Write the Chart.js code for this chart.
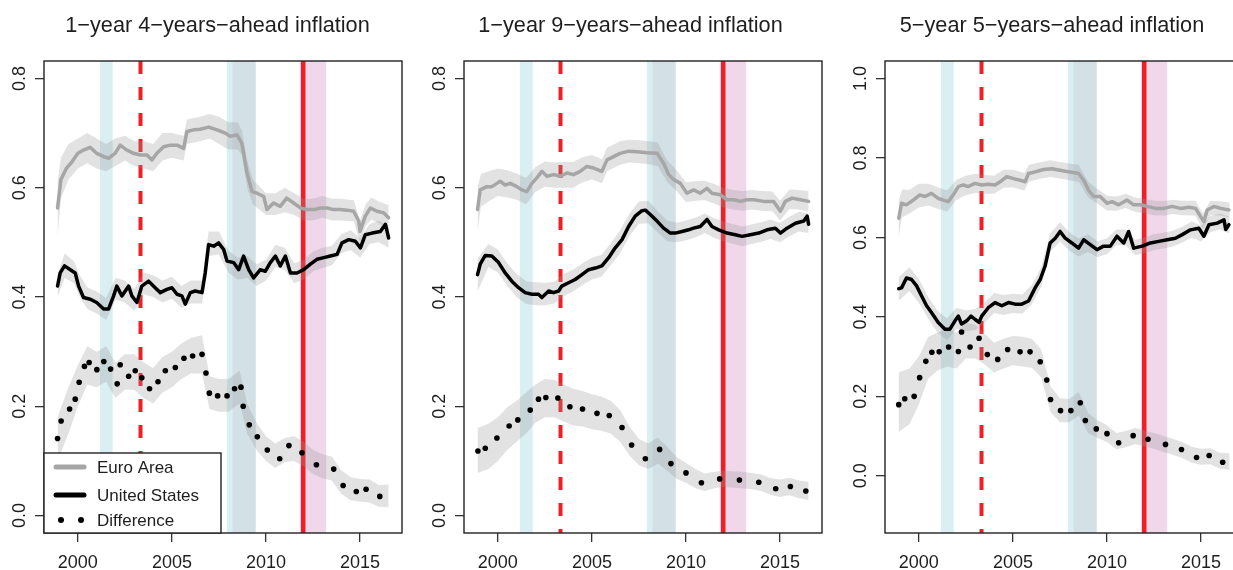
<!DOCTYPE html>
<html>
<head>
<meta charset="utf-8">
<script src="https://cdn.jsdelivr.net/npm/chart.js@4.4.1/dist/chart.umd.min.js"></script>
<style>
html,body{margin:0;padding:0;background:#fff;}
body{width:1233px;height:570px;overflow:hidden;position:relative;}
canvas{position:absolute;top:0;}
</style>
</head>
<body>
<canvas id="c1" width="412" height="570" style="left:0px"></canvas>
<canvas id="c2" width="412" height="570" style="left:420px"></canvas>
<canvas id="c3" width="412" height="570" style="left:841px"></canvas>
<script>
// ---------------- DATA ----------------
const TITLES = ['1\u2212year 4\u2212years\u2212ahead inflation', '1\u2212year 9\u2212years\u2212ahead inflation', '5\u2212year 5\u2212years\u2212ahead inflation'];
const SERIES = ['Euro Area', 'United States', 'Difference'];
const X_TICKS = [2000, 2005, 2010, 2015];
const Y_TICKS_A = [0.0, 0.2, 0.4, 0.6, 0.8];
const Y_TICKS_B = [0.0, 0.2, 0.4, 0.6, 0.8, 1.0];
const X_RANGE = [1998.2, 2017.23];
const Y_RANGE_A = [-0.032, 0.832];
const Y_RANGE_B = [-0.144, 1.044];

// shaded periods and event lines (years)
const US_RECESSIONS = [[2001.17, 2001.85], [2007.92, 2009.45]];
const EA_RECESSIONS = [[2008.22, 2009.45]];
const EA_CRISIS = [[2011.8, 2013.2]];
const DASHED_EVENT = 2003.33;
const SOLID_EVENT = 2011.98;

// Panel 1: 1-year 4-years-ahead
const P1_EA = [[1998.92,0.563],[1999.1,0.615],[1999.4,0.636],[1999.7,0.648],[2000.0,0.663],[2000.3,0.669],[2000.65,0.674],[2001.0,0.663],[2001.37,0.657],[2001.63,0.654],[2001.98,0.663],[2002.25,0.678],[2002.6,0.669],[2002.96,0.663],[2003.32,0.66],[2003.67,0.66],[2003.94,0.651],[2004.2,0.663],[2004.56,0.675],[2004.91,0.678],[2005.27,0.678],[2005.62,0.672],[2005.8,0.703],[2006.15,0.706],[2006.5,0.707],[2006.95,0.711],[2007.4,0.706],[2007.84,0.7],[2008.1,0.694],[2008.46,0.697],[2008.72,0.681],[2008.99,0.627],[2009.26,0.593],[2009.52,0.59],[2009.88,0.584],[2010.05,0.56],[2010.4,0.572],[2010.76,0.566],[2011.1,0.581],[2011.47,0.572],[2011.83,0.563],[2012.18,0.56],[2012.54,0.56],[2012.9,0.563],[2013.24,0.563],[2013.6,0.56],[2013.95,0.56],[2014.3,0.559],[2014.66,0.557],[2014.93,0.539],[2015.0,0.52],[2015.28,0.548],[2015.55,0.563],[2015.9,0.557],[2016.26,0.554],[2016.52,0.545]];
const P1_US = [[1998.92,0.42],[1999.06,0.444],[1999.29,0.457],[1999.6,0.45],[1999.86,0.444],[2000.04,0.42],[2000.3,0.399],[2000.66,0.396],[2001.0,0.39],[2001.37,0.378],[2001.63,0.378],[2001.9,0.402],[2002.07,0.42],[2002.34,0.402],[2002.7,0.42],[2002.87,0.402],[2003.14,0.39],[2003.4,0.42],[2003.76,0.429],[2004.11,0.417],[2004.38,0.408],[2004.73,0.414],[2005.0,0.417],[2005.27,0.405],[2005.53,0.402],[2005.71,0.387],[2005.98,0.408],[2006.24,0.411],[2006.6,0.408],[2006.77,0.444],[2006.95,0.496],[2007.22,0.493],[2007.48,0.499],[2007.75,0.487],[2007.93,0.466],[2008.28,0.463],[2008.55,0.45],[2008.81,0.475],[2009.08,0.45],[2009.34,0.435],[2009.7,0.45],[2009.96,0.447],[2010.23,0.463],[2010.5,0.475],[2010.76,0.457],[2011.03,0.475],[2011.3,0.444],[2011.65,0.444],[2012.0,0.45],[2012.36,0.46],[2012.71,0.469],[2013.07,0.472],[2013.42,0.475],[2013.78,0.478],[2014.04,0.499],[2014.4,0.505],[2014.75,0.502],[2015.02,0.49],[2015.28,0.514],[2015.64,0.517],[2016.08,0.52],[2016.35,0.533],[2016.52,0.508]];
const P1_DIFF = [[1998.92,0.141],[1999.11,0.173],[1999.56,0.195],[1999.86,0.213],[2000.07,0.244],[2000.35,0.273],[2000.6,0.28],[2001.01,0.267],[2001.38,0.282],[2001.74,0.268],[2002.09,0.241],[2002.25,0.276],[2002.7,0.255],[2003.05,0.265],[2003.4,0.252],[2003.81,0.232],[2004.26,0.245],[2004.65,0.265],[2005.18,0.271],[2005.64,0.288],[2006.1,0.292],[2006.6,0.295],[2006.81,0.261],[2006.99,0.224],[2007.43,0.219],[2007.93,0.219],[2008.33,0.232],[2008.67,0.235],[2008.79,0.2],[2009.11,0.166],[2009.54,0.144],[2010.07,0.12],[2010.73,0.104],[2011.22,0.128],[2011.91,0.115],[2012.68,0.093],[2013.6,0.085],[2014.1,0.055],[2014.8,0.044],[2015.32,0.048],[2016.05,0.035]];
// bands: [year, lower, upper]
const P1_EA_BAND = [[1998.92,0.51,0.61],[1999.1,0.58,0.655],[1999.5,0.615,0.68],[2000,0.635,0.69],[2000.5,0.645,0.70],[2001,0.635,0.69],[2001.5,0.63,0.68],[2002,0.64,0.69],[2002.5,0.65,0.695],[2003,0.64,0.685],[2003.5,0.635,0.685],[2004,0.63,0.68],[2004.5,0.65,0.70],[2005,0.655,0.70],[2005.62,0.65,0.695],[2005.8,0.68,0.725],[2006.5,0.685,0.73],[2007,0.69,0.735],[2007.5,0.68,0.73],[2008,0.67,0.72],[2008.5,0.67,0.72],[2008.72,0.66,0.705],[2009,0.60,0.65],[2009.3,0.57,0.615],[2010,0.55,0.59],[2010.5,0.55,0.59],[2011,0.555,0.60],[2011.5,0.55,0.59],[2012,0.54,0.58],[2012.5,0.54,0.58],[2013,0.545,0.585],[2013.5,0.54,0.58],[2014,0.54,0.58],[2014.66,0.538,0.577],[2015,0.50,0.54],[2015.3,0.53,0.57],[2015.6,0.542,0.582],[2016,0.535,0.575],[2016.52,0.525,0.568]];
const P1_US_BAND = [[1998.92,0.40,0.44],[1999.3,0.435,0.48],[1999.8,0.425,0.465],[2000.1,0.40,0.44],[2000.5,0.378,0.418],[2001,0.37,0.41],[2001.5,0.358,0.398],[2002,0.395,0.435],[2002.5,0.39,0.43],[2003,0.375,0.415],[2003.5,0.405,0.445],[2004,0.40,0.44],[2004.5,0.39,0.43],[2005,0.397,0.437],[2005.5,0.38,0.42],[2006,0.388,0.43],[2006.6,0.388,0.43],[2006.95,0.475,0.52],[2007.5,0.478,0.52],[2008,0.445,0.485],[2008.5,0.432,0.472],[2009,0.435,0.475],[2009.5,0.42,0.46],[2010,0.43,0.468],[2010.5,0.455,0.495],[2011,0.45,0.49],[2011.5,0.425,0.462],[2012,0.432,0.468],[2012.5,0.447,0.483],[2013,0.453,0.49],[2013.5,0.458,0.494],[2014,0.48,0.515],[2014.5,0.486,0.522],[2015,0.472,0.508],[2015.5,0.497,0.533],[2016,0.50,0.54],[2016.52,0.49,0.528]];
const P1_DIFF_BAND = [[1998.92,0.10,0.18],[1999.5,0.15,0.235],[2000,0.20,0.275],[2000.5,0.24,0.31],[2001,0.235,0.30],[2001.5,0.245,0.31],[2002,0.215,0.28],[2002.5,0.23,0.295],[2003,0.23,0.295],[2003.5,0.215,0.28],[2004,0.205,0.27],[2004.5,0.225,0.29],[2005,0.235,0.30],[2005.5,0.25,0.315],[2006,0.26,0.325],[2006.6,0.26,0.33],[2007,0.195,0.255],[2007.5,0.19,0.25],[2008,0.19,0.25],[2008.6,0.205,0.265],[2009,0.15,0.205],[2009.5,0.12,0.17],[2010,0.10,0.145],[2010.5,0.087,0.132],[2011,0.098,0.142],[2011.5,0.10,0.145],[2012,0.09,0.135],[2012.5,0.076,0.12],[2013,0.068,0.112],[2013.5,0.064,0.108],[2014,0.04,0.083],[2014.5,0.028,0.07],[2015,0.025,0.067],[2015.5,0.024,0.066],[2016,0.016,0.056],[2016.52,0.015,0.057]];

// Panel 2: 1-year 9-years-ahead
const P2_EA = [[1998.92,0.56],[1999.06,0.596],[1999.41,0.602],[1999.68,0.602],[1999.95,0.608],[2000.12,0.612],[2000.39,0.605],[2000.66,0.608],[2001.01,0.602],[2001.28,0.596],[2001.54,0.593],[2001.81,0.608],[2002.07,0.618],[2002.34,0.63],[2002.61,0.621],[2002.96,0.624],[2003.32,0.621],[2003.67,0.627],[2004.02,0.624],[2004.38,0.63],[2004.73,0.639],[2005.09,0.636],[2005.53,0.63],[2005.8,0.651],[2006.15,0.657],[2006.5,0.663],[2006.95,0.667],[2007.39,0.666],[2007.93,0.664],[2008.46,0.663],[2008.81,0.645],[2009.08,0.624],[2009.34,0.615],[2009.7,0.608],[2010.05,0.59],[2010.4,0.596],[2010.76,0.59],[2011.11,0.599],[2011.38,0.59],[2011.83,0.587],[2012.18,0.578],[2012.54,0.578],[2012.89,0.575],[2013.24,0.578],[2013.6,0.578],[2014.13,0.575],[2014.66,0.575],[2015.02,0.557],[2015.28,0.575],[2015.64,0.581],[2016.08,0.578],[2016.52,0.575]];
const P2_US = [[1998.92,0.441],[1999.06,0.46],[1999.33,0.476],[1999.68,0.475],[2000.04,0.463],[2000.39,0.444],[2000.74,0.429],[2001.1,0.417],[2001.45,0.408],[2001.81,0.405],[2002.16,0.405],[2002.34,0.399],[2002.7,0.411],[2002.96,0.408],[2003.23,0.411],[2003.4,0.42],[2003.76,0.426],[2004.11,0.432],[2004.47,0.441],[2004.82,0.45],[2005.18,0.453],[2005.53,0.457],[2005.89,0.472],[2006.24,0.49],[2006.6,0.505],[2006.95,0.529],[2007.3,0.548],[2007.66,0.558],[2007.84,0.559],[2008.1,0.551],[2008.46,0.539],[2008.81,0.526],[2009.17,0.517],[2009.43,0.517],[2009.79,0.52],[2010.14,0.523],[2010.4,0.526],[2010.76,0.529],[2011.12,0.542],[2011.38,0.529],[2011.74,0.523],[2012.18,0.517],[2012.62,0.514],[2012.98,0.511],[2013.42,0.514],[2013.87,0.517],[2014.31,0.523],[2014.75,0.526],[2015.02,0.517],[2015.37,0.526],[2015.82,0.535],[2016.26,0.539],[2016.44,0.548],[2016.52,0.533]];
const P2_DIFF = [[1998.94,0.118],[1999.33,0.123],[1999.95,0.142],[2000.6,0.164],[2001.06,0.175],[2001.72,0.193],[2002.16,0.213],[2002.55,0.216],[2003.19,0.215],[2003.83,0.199],[2004.5,0.195],[2005.27,0.187],[2005.92,0.183],[2006.6,0.161],[2007.11,0.129],[2007.84,0.104],[2008.6,0.121],[2009.2,0.095],[2010.0,0.078],[2010.82,0.06],[2011.79,0.067],[2012.84,0.065],[2013.87,0.061],[2014.77,0.049],[2015.55,0.053],[2016.37,0.045]];
const P2_EA_BAND = [[1998.92,0.52,0.60],[1999.1,0.565,0.625],[1999.5,0.575,0.63],[2000,0.585,0.635],[2000.5,0.582,0.632],[2001,0.578,0.626],[2001.5,0.57,0.618],[2002,0.592,0.638],[2002.5,0.602,0.648],[2003,0.60,0.646],[2003.5,0.60,0.647],[2004,0.60,0.647],[2004.5,0.61,0.656],[2005,0.615,0.66],[2005.53,0.608,0.652],[2005.8,0.63,0.673],[2006.5,0.642,0.685],[2007,0.646,0.688],[2007.5,0.645,0.687],[2008,0.643,0.685],[2008.5,0.64,0.683],[2009,0.61,0.65],[2009.5,0.594,0.632],[2010,0.574,0.61],[2010.5,0.576,0.612],[2011,0.577,0.613],[2011.5,0.571,0.607],[2012,0.564,0.60],[2012.5,0.56,0.596],[2013,0.558,0.594],[2013.5,0.56,0.596],[2014,0.558,0.594],[2014.6,0.557,0.593],[2015,0.54,0.576],[2015.5,0.561,0.597],[2016,0.56,0.596],[2016.52,0.556,0.594]];
const P2_US_BAND = [[1998.92,0.41,0.47],[1999.5,0.455,0.497],[2000,0.445,0.487],[2000.5,0.42,0.462],[2001,0.40,0.442],[2001.5,0.387,0.429],[2002,0.385,0.427],[2002.5,0.385,0.426],[2003,0.388,0.428],[2003.5,0.402,0.442],[2004,0.41,0.45],[2004.5,0.422,0.462],[2005,0.432,0.472],[2005.5,0.437,0.477],[2006,0.458,0.498],[2006.5,0.48,0.522],[2007,0.512,0.553],[2007.5,0.534,0.575],[2008,0.535,0.576],[2008.5,0.518,0.557],[2009,0.502,0.54],[2009.5,0.50,0.536],[2010,0.504,0.54],[2010.5,0.509,0.545],[2011,0.517,0.553],[2011.5,0.508,0.544],[2012,0.502,0.538],[2012.5,0.497,0.533],[2013,0.493,0.529],[2013.5,0.497,0.533],[2014,0.501,0.537],[2014.5,0.506,0.542],[2015,0.50,0.536],[2015.5,0.511,0.547],[2016,0.52,0.556],[2016.52,0.517,0.553]];
const P2_DIFF_BAND = [[1998.92,0.078,0.16],[1999.5,0.085,0.168],[2000,0.10,0.18],[2000.5,0.12,0.198],[2001,0.135,0.21],[2001.5,0.15,0.225],[2002,0.17,0.24],[2002.5,0.18,0.25],[2003,0.18,0.248],[2003.5,0.172,0.24],[2004,0.165,0.232],[2004.5,0.163,0.228],[2005,0.158,0.222],[2005.5,0.155,0.218],[2006,0.15,0.21],[2006.5,0.135,0.193],[2007,0.11,0.163],[2007.5,0.092,0.14],[2008,0.085,0.132],[2008.5,0.095,0.143],[2009,0.082,0.126],[2009.5,0.067,0.107],[2010,0.06,0.096],[2010.5,0.05,0.085],[2011,0.045,0.077],[2011.5,0.05,0.08],[2012,0.052,0.082],[2012.5,0.051,0.081],[2013,0.05,0.08],[2013.5,0.048,0.078],[2014,0.045,0.075],[2014.5,0.038,0.068],[2015,0.034,0.066],[2015.5,0.037,0.069],[2016,0.032,0.064],[2016.52,0.028,0.062]];

// Panel 3: 5-year 5-years-ahead
const P3_EA = [[1998.93,0.648],[1999.08,0.686],[1999.34,0.682],[1999.7,0.694],[2000.05,0.707],[2000.32,0.703],[2000.67,0.711],[2001.03,0.698],[2001.3,0.694],[2001.56,0.69],[2001.83,0.707],[2002.1,0.728],[2002.36,0.732],[2002.63,0.728],[2002.98,0.736],[2003.34,0.732],[2003.69,0.734],[2004.05,0.732],[2004.32,0.74],[2004.67,0.753],[2005.03,0.748],[2005.38,0.744],[2005.65,0.74],[2005.83,0.761],[2006.18,0.765],[2006.63,0.771],[2007.07,0.773],[2007.51,0.769],[2007.96,0.765],[2008.49,0.761],[2008.76,0.744],[2009.02,0.719],[2009.29,0.703],[2009.64,0.703],[2010.0,0.686],[2010.27,0.69],[2010.62,0.682],[2011.07,0.694],[2011.42,0.682],[2011.78,0.682],[2012.13,0.678],[2012.58,0.673],[2013.02,0.673],[2013.46,0.678],[2013.91,0.673],[2014.35,0.676],[2014.71,0.673],[2014.97,0.653],[2015.15,0.64],[2015.33,0.669],[2015.68,0.678],[2016.04,0.673],[2016.48,0.669]];
const P3_US = [[1998.93,0.471],[1999.08,0.473],[1999.34,0.498],[1999.61,0.494],[1999.88,0.478],[2000.14,0.453],[2000.41,0.428],[2000.67,0.411],[2001.03,0.386],[2001.39,0.369],[2001.65,0.369],[2001.92,0.39],[2002.1,0.402],[2002.27,0.382],[2002.54,0.39],[2002.77,0.402],[2002.98,0.394],[2003.2,0.386],[2003.34,0.402],[2003.69,0.423],[2004.05,0.436],[2004.41,0.428],[2004.76,0.436],[2005.12,0.432],[2005.47,0.432],[2005.83,0.44],[2006.18,0.473],[2006.45,0.494],[2006.71,0.528],[2006.98,0.586],[2007.25,0.598],[2007.51,0.615],[2007.78,0.598],[2008.13,0.586],[2008.49,0.573],[2008.76,0.594],[2009.11,0.582],[2009.47,0.569],[2009.82,0.578],[2010.18,0.578],[2010.53,0.603],[2010.89,0.586],[2011.15,0.615],[2011.42,0.573],[2011.87,0.578],[2012.31,0.586],[2012.75,0.59],[2013.2,0.594],[2013.64,0.598],[2014.0,0.607],[2014.44,0.619],[2014.88,0.623],[2015.15,0.603],[2015.42,0.632],[2015.86,0.636],[2016.22,0.644],[2016.31,0.62],[2016.48,0.632]];
const P3_DIFF = [[1998.93,0.179],[1999.25,0.194],[1999.75,0.2],[2000.04,0.247],[2000.37,0.288],[2000.69,0.311],[2001.08,0.312],[2001.58,0.324],[2002.1,0.313],[2002.27,0.362],[2002.72,0.324],[2003.2,0.346],[2003.64,0.305],[2004.19,0.293],[2004.72,0.318],[2005.38,0.312],[2005.91,0.312],[2006.45,0.287],[2006.8,0.241],[2007.0,0.192],[2007.53,0.164],[2008.08,0.164],[2008.58,0.184],[2008.85,0.139],[2009.43,0.118],[2010.0,0.106],[2010.62,0.083],[2011.39,0.101],[2012.18,0.092],[2013.11,0.079],[2013.96,0.066],[2014.76,0.046],[2015.43,0.051],[2016.15,0.034]];
const P3_EA_BAND = [[1998.92,0.60,0.69],[1999.1,0.65,0.72],[1999.5,0.66,0.72],[2000,0.675,0.735],[2000.5,0.68,0.735],[2001,0.672,0.726],[2001.5,0.665,0.718],[2002,0.695,0.745],[2002.5,0.706,0.755],[2003,0.712,0.76],[2003.5,0.71,0.757],[2004,0.71,0.755],[2004.5,0.725,0.77],[2005,0.726,0.77],[2005.6,0.718,0.762],[2005.85,0.74,0.783],[2006.5,0.748,0.79],[2007,0.752,0.794],[2007.5,0.748,0.79],[2008,0.744,0.786],[2008.5,0.74,0.782],[2009,0.70,0.74],[2009.5,0.685,0.722],[2010,0.668,0.705],[2010.5,0.667,0.703],[2011,0.674,0.71],[2011.5,0.664,0.70],[2012,0.661,0.697],[2012.5,0.656,0.692],[2013,0.655,0.691],[2013.5,0.659,0.695],[2014,0.656,0.692],[2014.7,0.655,0.692],[2015.1,0.62,0.66],[2015.5,0.656,0.692],[2016,0.655,0.691],[2016.52,0.65,0.688]];
const P3_US_BAND = [[1998.92,0.44,0.50],[1999.5,0.465,0.525],[2000,0.435,0.495],[2000.5,0.395,0.45],[2001,0.36,0.415],[2001.5,0.342,0.396],[2002,0.37,0.423],[2002.5,0.364,0.416],[2003,0.367,0.42],[2003.5,0.385,0.436],[2004,0.41,0.46],[2004.5,0.405,0.455],[2005,0.41,0.458],[2005.5,0.408,0.456],[2006,0.432,0.48],[2006.5,0.476,0.524],[2006.98,0.563,0.61],[2007.5,0.59,0.638],[2008,0.567,0.613],[2008.5,0.552,0.597],[2009,0.564,0.608],[2009.5,0.55,0.59],[2010,0.558,0.598],[2010.5,0.58,0.62],[2011,0.58,0.62],[2011.5,0.555,0.594],[2012,0.56,0.60],[2012.5,0.568,0.608],[2013,0.572,0.612],[2013.5,0.577,0.617],[2014,0.587,0.627],[2014.5,0.60,0.64],[2015,0.59,0.63],[2015.5,0.613,0.653],[2016,0.62,0.66],[2016.52,0.61,0.652]];
const P3_DIFF_BAND = [[1998.92,0.11,0.26],[1999.5,0.13,0.27],[2000,0.18,0.30],[2000.5,0.245,0.35],[2001,0.265,0.36],[2001.5,0.275,0.37],[2002,0.27,0.36],[2002.5,0.295,0.385],[2003,0.295,0.38],[2003.5,0.28,0.357],[2004,0.26,0.335],[2004.5,0.27,0.345],[2005,0.278,0.352],[2005.5,0.275,0.35],[2006,0.272,0.345],[2006.5,0.248,0.318],[2007,0.16,0.225],[2007.5,0.135,0.195],[2008,0.135,0.193],[2008.5,0.152,0.21],[2009,0.107,0.158],[2009.5,0.095,0.14],[2010,0.085,0.127],[2010.5,0.067,0.108],[2011,0.072,0.113],[2011.5,0.08,0.12],[2012,0.074,0.114],[2012.5,0.068,0.108],[2013,0.06,0.10],[2013.5,0.053,0.093],[2014,0.045,0.085],[2014.5,0.033,0.073],[2015,0.028,0.068],[2015.5,0.029,0.069],[2016,0.018,0.058],[2016.52,0.015,0.057]];

// ---------------- STYLE ----------------
const FONT = "'Liberation Sans', Arial, Helvetica, sans-serif";
const TEXT_COLOR = '#1e1e1e';
const EA_COLOR = '#a6a6a6';
const US_COLOR = '#000000';
const BAND_FILL = 'rgba(150,150,150,0.28)';
const CYAN = '#d9eff1';
const DARK_CYAN = '#d3e1e7';
const PINK = '#f0d7ea';
const RED = '#f01f26';

Chart.defaults.font.family = FONT;

const eventsPlugin = {
  id: 'events',
  beforeDatasetsDraw(chart) {
    const {ctx, chartArea: ca, scales: {x}} = chart;
    ctx.save();
    ctx.beginPath();
    ctx.rect(ca.left, ca.top, ca.right - ca.left, ca.bottom - ca.top);
    ctx.clip();
    const rect = (r, color) => {
      const x0 = x.getPixelForValue(r[0]);
      const x1 = x.getPixelForValue(r[1]);
      ctx.fillStyle = color;
      ctx.fillRect(x0, ca.top, x1 - x0, ca.bottom - ca.top);
    };
    US_RECESSIONS.forEach(r => rect(r, CYAN));
    EA_RECESSIONS.forEach(r => rect(r, DARK_CYAN));
    EA_CRISIS.forEach(r => rect(r, PINK));
    ctx.strokeStyle = RED;
    ctx.lineCap = 'butt';
    ctx.lineWidth = 4;
    ctx.setLineDash([13, 13]);
    let px = x.getPixelForValue(DASHED_EVENT);
    ctx.beginPath(); ctx.moveTo(px, ca.top); ctx.lineTo(px, ca.bottom); ctx.stroke();
    ctx.setLineDash([]);
    ctx.lineWidth = 4.5;
    px = x.getPixelForValue(SOLID_EVENT);
    ctx.beginPath(); ctx.moveTo(px, ca.top); ctx.lineTo(px, ca.bottom); ctx.stroke();
    ctx.restore();
  }
};

const boxPlugin = {
  id: 'box',
  afterLayout(chart, args, opts) {
    // centre the title over the plot region (with the small offset seen in the reference)
    const t = chart.titleBlock, ca = chart.chartArea;
    if (t && ca) {
      const shift = (opts && opts.titleShift) || 0;
      const w = t.right - t.left;
      const c = (ca.left + ca.right) / 2 + shift;
      t.left = c - w / 2;
      t.right = c + w / 2;
    }
  },
  afterDraw(chart) {
    const {ctx, chartArea: ca} = chart;
    ctx.save();
    ctx.strokeStyle = '#222';
    ctx.lineWidth = 1.4;
    ctx.strokeRect(ca.left, ca.top, ca.right - ca.left, ca.bottom - ca.top);
    ctx.restore();
  }
};

const legendPlugin = {
  id: 'rlegend',
  afterDraw(chart, args, opts) {
    if (!opts || !opts.show) return;
    const {ctx, chartArea: ca} = chart;
    const w = 177, h = 80;
    const left = ca.left, top = ca.bottom - h;
    ctx.save();
    ctx.fillStyle = '#fff';
    ctx.fillRect(left, top, w, h);
    ctx.strokeStyle = '#222';
    ctx.lineWidth = 1.4;
    ctx.strokeRect(left, top, w, h);
    const rows = [top + 14, top + 42, top + 67];
    ctx.font = '17px ' + FONT;
    ctx.textBaseline = 'middle';
    SERIES.forEach((name, i) => {
      const ds = chart.data.datasets.find(d => d.label === name);
      const y = rows[i];
      if (i < 2) {
        ctx.strokeStyle = ds.borderColor;
        ctx.lineWidth = 5;
        ctx.lineCap = 'round';
        ctx.beginPath(); ctx.moveTo(left + 12, y); ctx.lineTo(left + 40, y); ctx.stroke();
      } else {
        ctx.fillStyle = ds.pointBackgroundColor;
        [left + 17, left + 37].forEach(cx => { ctx.beginPath(); ctx.arc(cx, y, 3, 0, Math.PI * 2); ctx.fill(); });
      }
      ctx.fillStyle = TEXT_COLOR;
      ctx.fillText(name, left + 53, y + 1);
    });
    ctx.restore();
  }
};

function makePanel(id, cfg) {
  const pts = a => a.map(p => ({x: p[0], y: p[1]}));
  const bandPts = (a, k) => a.map(p => ({x: p[0], y: p[k]}));
  const bandDs = (a, k, target) => ({
    label: '_band', data: bandPts(a, k), borderWidth: 0, borderColor: 'rgba(0,0,0,0)',
    pointRadius: 0, fill: target === undefined ? false : target, backgroundColor: BAND_FILL, order: 10, tension: 0
  });
  const datasets = [
    bandDs(cfg.eaBand, 1), bandDs(cfg.eaBand, 2, 0),
    bandDs(cfg.usBand, 1), bandDs(cfg.usBand, 2, 2),
    bandDs(cfg.diffBand, 1), bandDs(cfg.diffBand, 2, 4),
    {label: SERIES[0], data: pts(cfg.ea), borderColor: EA_COLOR, borderWidth: 3.5, pointRadius: 0, fill: false, order: 5, borderJoinStyle: 'round', borderCapStyle: 'round'},
    {label: SERIES[1], data: pts(cfg.us), borderColor: US_COLOR, borderWidth: 3.5, pointRadius: 0, fill: false, order: 3, borderJoinStyle: 'round', borderCapStyle: 'round'},
    {label: SERIES[2], data: pts(cfg.diff), showLine: false, pointRadius: 2.8, pointBackgroundColor: '#000', pointBorderWidth: 0, borderColor: '#000', fill: false, order: 1}
  ];
  return new Chart(document.getElementById(id), {
    type: 'line',
    data: {datasets},
    plugins: [eventsPlugin, boxPlugin, legendPlugin],
    options: {
      responsive: false,
      animation: false,
      events: [],
      layout: {padding: {left: 0, right: 10, top: 0, bottom: 0}},
      plugins: {
        legend: {display: false},
        tooltip: {enabled: false},
        title: {display: true, text: cfg.title, color: TEXT_COLOR, font: {family: FONT, size: 21.7, weight: 'normal', lineHeight: 1.2}, padding: {top: 13.5, bottom: 21.46}},
        box: {titleShift: cfg.titleShift},
        rlegend: {show: !!cfg.legend}
      },
      scales: {
        x: {
          type: 'linear', min: X_RANGE[0], max: X_RANGE[1],
          afterBuildTicks: s => { s.ticks = X_TICKS.map(v => ({value: v})); },
          afterFit: s => { s.height = 37; },
          ticks: {autoSkip: false, maxRotation: 0, padding: 10, color: TEXT_COLOR, font: {family: FONT, size: 18}, callback: v => String(v)},
          grid: {display: true, drawOnChartArea: false, drawTicks: true, tickLength: 9, color: '#333', lineWidth: 1.3},
          border: {display: false}
        },
        y: {
          type: 'linear', min: cfg.yRange[0], max: cfg.yRange[1],
          afterBuildTicks: s => { s.ticks = cfg.yTicks.map(v => ({value: v})); },
          afterFit: s => { s.width = 44; },
          ticks: {autoSkip: false, minRotation: 90, maxRotation: 90, crossAlign: 'center', padding: 2.5, color: TEXT_COLOR, font: {family: FONT, size: 18}, callback: v => v.toFixed(1)},
          grid: {display: true, drawOnChartArea: false, drawTicks: true, tickLength: 9, color: '#333', lineWidth: 1.3},
          border: {display: false}
        }
      }
    }
  });
}

makePanel('c1', {title: TITLES[0], titleShift: -5.5, ea: P1_EA, us: P1_US, diff: P1_DIFF, eaBand: P1_EA_BAND, usBand: P1_US_BAND, diffBand: P1_DIFF_BAND, yRange: Y_RANGE_A, yTicks: Y_TICKS_A, legend: true});
makePanel('c2', {title: TITLES[1], titleShift: -12.5, ea: P2_EA, us: P2_US, diff: P2_DIFF, eaBand: P2_EA_BAND, usBand: P2_US_BAND, diffBand: P2_DIFF_BAND, yRange: Y_RANGE_A, yTicks: Y_TICKS_A, legend: false});
makePanel('c3', {title: TITLES[2], titleShift: -12, ea: P3_EA, us: P3_US, diff: P3_DIFF, eaBand: P3_EA_BAND, usBand: P3_US_BAND, diffBand: P3_DIFF_BAND, yRange: Y_RANGE_B, yTicks: Y_TICKS_B, legend: false});
</script>
</body>
</html>
